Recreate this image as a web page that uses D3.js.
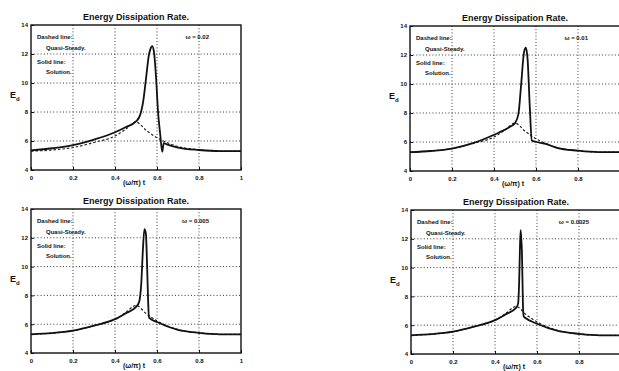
<!DOCTYPE html>
<html>
<head>
<meta charset="utf-8">
<script src="https://cdn.jsdelivr.net/npm/d3@7"></script>
<style>
  body { margin: 0; background: #fff; }
  svg { display: block; }
  text { font-family: "Liberation Sans", Arial, sans-serif; fill: #111; }
</style>
</head>
<body>
<div id="chart"></div>
<script>
// tick values / labels
const xTicks = [0, 0.2, 0.4, 0.6, 0.8, 1];
const yTicks = [4, 6, 8, 10, 12, 14];
const titleText = 'Energy Dissipation Rate.';
const xLabelText = '(\u03c9/\u03c0) t';
const omegaLabels = ['0.02', '0.01', '0.005', '0.0025'];

// quasi-steady (dashed) curve
const qsT = [0, 0.1, 0.2, 0.3, 0.4, 0.45, 0.5, 0.55, 0.6, 0.65, 0.7, 0.8, 0.9, 1];
const qsE = [5.3, 5.38, 5.55, 5.9, 6.35, 6.8, 7.3, 6.72, 6.22, 5.88, 5.62, 5.4, 5.3, 5.3];

// solutions (solid) for each omega
const sol1T = [0, 0.1, 0.2, 0.3, 0.4, 0.45, 0.5, 0.52, 0.535, 0.55, 0.56, 0.57, 0.577, 0.585, 0.595, 0.605, 0.615, 0.625, 0.628, 0.632, 0.65, 0.7, 0.8, 0.9, 1];
const sol1E = [5.35, 5.5, 5.72, 6.1, 6.6, 6.95, 7.35, 7.8, 8.8, 10.6, 11.8, 12.4, 12.55, 12.2, 10.5, 8.0, 6.5, 5.25, 5.5, 5.85, 5.75, 5.55, 5.38, 5.3, 5.3];

const sol2T = [0, 0.1, 0.2, 0.3, 0.4, 0.476, 0.5, 0.516, 0.53, 0.543, 0.552, 0.56, 0.571, 0.58, 0.603, 0.65, 0.7, 0.8, 0.9, 1];
const sol2E = [5.3, 5.38, 5.55, 5.92, 6.5, 7.05, 7.3, 7.9, 10.1, 12.2, 12.5, 11.7, 8.25, 6.1, 6.0, 5.85, 5.6, 5.4, 5.3, 5.3];

const sol3T = [0, 0.1, 0.2, 0.3, 0.4, 0.45, 0.5, 0.515, 0.525, 0.533, 0.54, 0.547, 0.553, 0.558, 0.562, 0.6, 0.7, 0.8, 0.9, 1];
const sol3E = [5.3, 5.38, 5.55, 5.9, 6.35, 6.75, 7.2, 7.55, 8.8, 11.2, 12.6, 12.3, 10.0, 7.5, 6.45, 6.15, 5.6, 5.4, 5.3, 5.3];

const sol4T = [0, 0.1, 0.2, 0.3, 0.4, 0.45, 0.5, 0.51, 0.515, 0.519, 0.522, 0.525, 0.528, 0.531, 0.534, 0.537, 0.545, 0.6, 0.7, 0.8, 0.9, 1];
const sol4E = [5.3, 5.38, 5.55, 5.9, 6.35, 6.75, 7.2, 7.5, 9.0, 11.5, 12.6, 12.0, 11.2, 9.0, 7.0, 6.6, 6.5, 6.1, 5.6, 5.4, 5.3, 5.3];

const solutions = [[sol1T, sol1E], [sol2T, sol2E], [sol3T, sol3E], [sol4T, sol4E]];

// panel frames (px); the right-hand panels run off the page edge
const frames = [
  { left: 31, top: 25, w: 210, h: 145 },
  { left: 410, top: 26, w: 210, h: 145 },
  { left: 31, top: 209, w: 210, h: 144 },
  { left: 411, top: 210, w: 210, h: 144 }
];
const pageW = 619;

const svg = d3.select('#chart').append('svg')
  .attr('width', pageW)
  .attr('height', 371);

const zip = (t, e) => t.map((v, i) => ({ t: v, e: e[i] }));

frames.forEach((f, i) => {
  const x = d3.scaleLinear().domain([0, 1]).range([0, f.w]);
  const y = d3.scaleLinear().domain([4, 14]).range([f.h, 0]);
  const g = svg.append('g').attr('transform', `translate(${f.left},${f.top})`);

  // dotted grid
  g.append('g').selectAll('line')
    .data(xTicks.slice(1, -1)).enter().append('line')
    .attr('x1', d => x(d)).attr('x2', d => x(d))
    .attr('y1', 0).attr('y2', f.h)
    .attr('stroke', '#222').attr('stroke-width', 0.9)
    .attr('stroke-dasharray', '1,2.2');
  g.append('g').selectAll('line')
    .data(yTicks.slice(1, -1)).enter().append('line')
    .attr('y1', d => y(d)).attr('y2', d => y(d))
    .attr('x1', 0).attr('x2', f.w)
    .attr('stroke', '#222').attr('stroke-width', 0.9)
    .attr('stroke-dasharray', '1,2.2');

  // axes with inward ticks; labels that fall past the page edge are dropped
  const shownX = xTicks.filter(d => f.left + x(d) + 3 < pageW);
  const xAxis = g.append('g').attr('transform', `translate(0,${f.h})`)
    .call(d3.axisBottom(x).tickValues(shownX).tickSizeInner(-3).tickSizeOuter(0)
      .tickFormat(d => d === 0 || d === 1 ? d3.format('d')(d) : d3.format('.1f')(d)));
  xAxis.select('.domain').remove();
  xAxis.selectAll('text').attr('y', 6).attr('font-size', 6).attr('font-weight', 'bold');
  xAxis.selectAll('line').attr('stroke', '#111');

  const yAxis = g.append('g')
    .call(d3.axisLeft(y).tickValues(yTicks).tickSizeInner(-3).tickSizeOuter(0));
  yAxis.select('.domain').remove();
  yAxis.selectAll('text').attr('x', -3).attr('font-size', 6).attr('font-weight', 'bold');
  yAxis.selectAll('line').attr('stroke', '#111');

  // frame
  g.append('rect')
    .attr('width', f.w).attr('height', f.h)
    .attr('fill', 'none').attr('stroke', '#111').attr('stroke-width', 1.4);

  const line = d3.line()
    .x(d => x(d.t))
    .y(d => y(d.e))
    .curve(d3.curveMonotoneX);

  // quasi-steady dashed
  g.append('path')
    .attr('d', line(zip(qsT, qsE)))
    .attr('fill', 'none').attr('stroke', '#222')
    .attr('stroke-width', 1.2).attr('stroke-dasharray', '2.5,2');

  // solution solid
  g.append('path')
    .attr('d', line(zip(solutions[i][0], solutions[i][1])))
    .attr('fill', 'none').attr('stroke', '#111')
    .attr('stroke-width', 1.8);

  // title
  g.append('text')
    .attr('x', f.w / 2).attr('y', -5)
    .attr('text-anchor', 'middle')
    .attr('font-size', 9).attr('font-weight', 'bold')
    .text(titleText);

  // x label
  g.append('text')
    .attr('x', f.w / 2 - 2).attr('y', f.h + 15)
    .attr('text-anchor', 'middle')
    .attr('font-size', 7).attr('font-weight', 'bold')
    .text(xLabelText);

  // y label E_d
  const yl = g.append('text')
    .attr('x', -21).attr('y', 73)
    .attr('font-size', 9).attr('font-weight', 'bold');
  yl.append('tspan').text('E');
  yl.append('tspan').attr('dy', 3).attr('font-size', 6).text('d');

  // legend notes
  const notes = [
    { dx: 6, dy: 14, s: 'Dashed line:' },
    { dx: 15, dy: 25, s: 'Quasi-Steady.' },
    { dx: 6, dy: 39, s: 'Solid line:' },
    { dx: 15, dy: 49, s: 'Solution.' }
  ];
  g.selectAll('text.note').data(notes).enter().append('text')
    .attr('class', 'note')
    .attr('x', d => d.dx).attr('y', d => d.dy)
    .attr('font-size', 6).attr('font-weight', 'bold')
    .text(d => d.s);

  g.append('text')
    .attr('x', 178).attr('y', 14)
    .attr('text-anchor', 'end')
    .attr('font-size', 6).attr('font-weight', 'bold')
    .text('\u03c9 = ' + omegaLabels[i]);
});
</script>
</body>
</html>
